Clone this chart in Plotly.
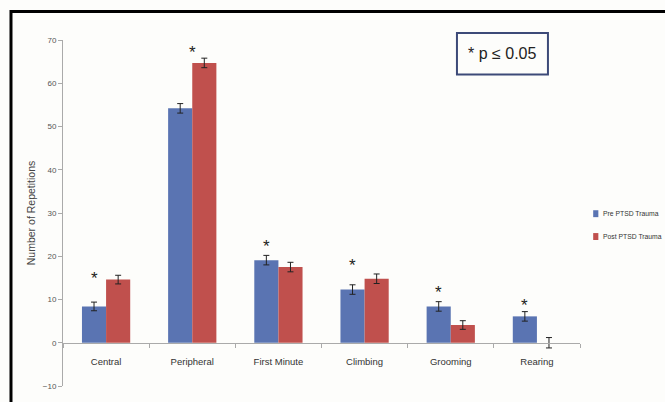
import plotly.graph_objects as go

# Behaviour counts before and after the PTSD trauma
categories = ["Central", "Peripheral", "First Minute", "Climbing", "Grooming", "Rearing"]
series_names = ["Pre PTSD Trauma", "Post PTSD Trauma"]
pre_values = [8.4, 54.2, 19.1, 12.3, 8.4, 6.1]
pre_errors = [1.0, 1.1, 1.1, 1.1, 1.1, 1.1]
post_values = [14.6, 64.7, 17.5, 14.8, 4.1, 0.0]
post_errors = [1.0, 1.1, 1.1, 1.1, 1.0, 1.2]

# Significance markers: height of each asterisk and the bar it sits over
star_heights = [15.7, 68.1, 23.2, 18.7, 12.5, 9.6]
star_over = ["pre", "group", "pre", "pre", "pre", "pre"]

y_ticks = list(range(-10, 71, 10))

BLUE = "#5a74b2"
RED = "#c0504d"
FONT = "Liberation Sans, Arial, sans-serif"

fig = go.Figure()
fig.add_trace(go.Bar(
    x=categories, y=pre_values, name=series_names[0], marker_color=BLUE,
    marker_line_width=0,
    error_y=dict(type="data", array=pre_errors, color="#222", thickness=1, width=3),
))
fig.add_trace(go.Bar(
    x=categories, y=post_values, name=series_names[1], marker_color=RED,
    marker_line_width=0,
    error_y=dict(type="data", array=post_errors, color="#222", thickness=1, width=3),
))

# Asterisks above the significant comparisons
for cat, h, where in zip(categories, star_heights, star_over):
    fig.add_annotation(
        x=cat, y=h, xref="x", yref="y", text="*", showarrow=False,
        xshift=-12 if where == "pre" else 0, yshift=-4,
        xanchor="center", yanchor="middle",
        font=dict(family=FONT, size=17, color="#222"),
    )

# Significance key box
fig.add_shape(type="rect", xref="paper", yref="paper",
              x0=0.762, x1=0.938, y0=0.900, y1=1.020,
              line=dict(color="#3d4a78", width=2), fillcolor="rgba(0,0,0,0)")
fig.add_annotation(xref="paper", yref="paper", x=0.850, y=0.960,
                   xanchor="center", yanchor="middle",
                   text="* p \u2264 0.05", showarrow=False,
                   font=dict(family=FONT, size=16, color="#222"))

# Series key to the right of the plot
for i, (name, col) in enumerate(zip(series_names, [BLUE, RED])):
    yc = 0.498 - i * 0.066
    fig.add_shape(type="rect", xref="paper", yref="paper",
                  x0=1.0255, x1=1.0355, y0=yc - 0.010, y1=yc + 0.010,
                  fillcolor=col, line_width=0)
    fig.add_annotation(xref="paper", yref="paper", x=1.041, y=yc,
                       xanchor="left", yanchor="middle", text=name, showarrow=False,
                       font=dict(family=FONT, size=6.8, color="#333"))

# Outer frame
fig.add_shape(type="rect", xref="paper", yref="paper",
              x0=-0.1006, x1=1.5, y0=-0.3, y1=1.0826,
              line=dict(color="black", width=3), fillcolor="rgba(0,0,0,0)")

fig.update_layout(
    width=665, height=402,
    margin=dict(l=63, r=85, t=40, b=11),
    paper_bgcolor="#fdfdfb", plot_bgcolor="#fdfdfb",
    barmode="group", bargap=0.44, bargroupgap=0,
    showlegend=False,
    font=dict(family=FONT, color="#444"),
)
fig.update_xaxes(
    anchor="free", position=0.125,
    showline=True, linecolor="#aaa", linewidth=1,
    ticks="outside", tickson="boundaries", ticklen=4, tickcolor="#aaa",
    tickfont=dict(size=9.5, color="#333"), ticklabelstandoff=10,
    showgrid=False, zeroline=False,
)
fig.update_yaxes(
    range=[-10, 70], tickvals=y_ticks,
    showline=True, linecolor="#aaa", linewidth=1,
    ticks="outside", ticklen=4, tickcolor="#aaa",
    tickfont=dict(size=8, color="#555"),
    showgrid=False, zeroline=False,
    title=dict(text="Number of Repetitions", font=dict(size=10.5, color="#444"), standoff=5),
)

fig.write_html("out.html")
